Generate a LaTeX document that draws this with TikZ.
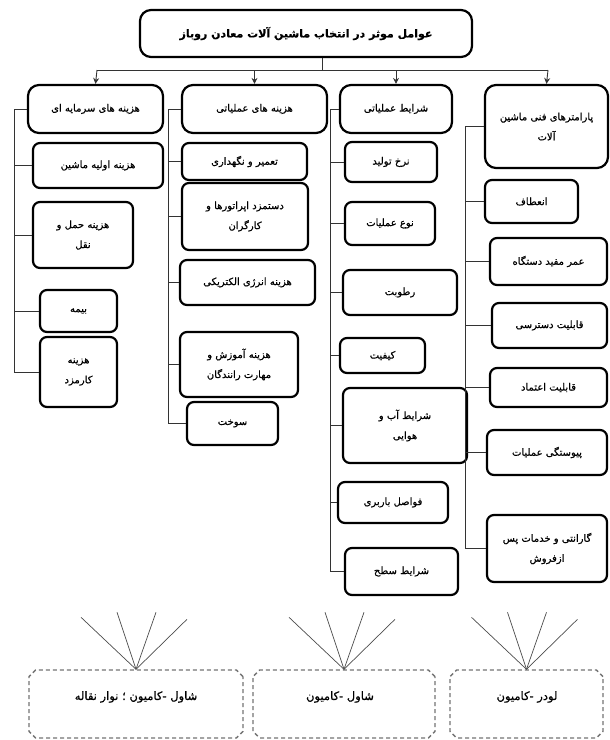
\documentclass[tikz,border=0pt]{standalone}
\usepackage{fontspec}
\TeXXeTstate=1
\newfontfamily\arabicfont[Script=Arabic,FakeBold=0.6]{DejaVu Sans}
\usetikzlibrary{arrows.meta,shapes.misc}
\newcommand\fa[1]{\beginR #1\endR}
\begin{document}
\begin{tikzpicture}[x=1pt,y=-1pt,
  box/.style={draw, line width=2.2pt, rounded corners=7pt, align=center, inner sep=2pt,
    font={\arabicfont\fontsize{10}{20}\selectfont}},
  head/.style={box, rounded corners=11pt},
  conn/.style={draw=black!80, line width=0.9pt},
  arr/.style={conn, -{Stealth[length=6pt,width=6pt]}},
  alt/.style={draw=black!55, dash pattern=on 4pt off 3pt, line width=1.4pt,
    shape=chamfered rectangle, chamfered rectangle xsep=9pt, chamfered rectangle ysep=9pt},
  alttext/.style={font={\arabicfont\fontsize{11.5}{14}\selectfont}},
  fan/.style={draw=black!70, line width=0.7pt}]
\useasboundingbox (0,0) rectangle (610,740);

% title
\node[head, minimum width=332pt, minimum height=47pt, font={\arabicfont\bfseries\fontsize{11}{14}\selectfont}] (title) at (306,33.5) {\fa{عوامل موثر در انتخاب ماشین آلات معادن روباز}};
\coordinate (hub) at (322,70);
\coordinate (hl) at (97,70);
\coordinate (hr) at (548,70);

% headers
\node[head, minimum width=135pt, minimum height=48pt] (h1) at (95.5,109) {\fa{هزینه های سرمایه ای}};
\node[head, minimum width=145pt, minimum height=48pt] (h2) at (254.5,109) {\fa{هزینه های عملیاتی}};
\node[head, minimum width=112pt, minimum height=48pt] (h3) at (396,109) {\fa{شرایط عملیاتی}};
\node[head, minimum width=123pt, minimum height=83pt] (h4) at (546.5,126.5) {\fa{پارامترهای فنی ماشین}\\\fa{آلات}};

\draw[conn] (title.south -| hub) -- (hub);
\draw[conn] (hl) -- (hr);
\draw[arr] (hl) -- (h1.north);
\draw[arr] (h2.north |- hl) -- (h2.north);
\draw[arr] (h3.north |- hl) -- (h3.north);
\draw[arr] (hr) -- (h4.north);

% column 1
\coordinate (s1) at (14,0);
\node[box, minimum width=130pt, minimum height=45pt] (a1) at (98,165.5) {\fa{هزینه اولیه ماشین}};
\node[box, minimum width=100pt, minimum height=66pt] (a2) at (83,235) {\fa{هزینه حمل و}\\\fa{نقل}};
\node[box, minimum width=77pt, minimum height=42pt] (a3) at (78.5,311) {\fa{بیمه}};
\node[box, minimum width=77pt, minimum height=70pt] (a4) at (78.5,372) {\fa{هزینه}\\\fa{کارمزد}};
\draw[conn] (h1.west) -- (h1.west -| s1) -- (a4.west -| s1) -- (a4.west);
\foreach \n in {a1,a2,a3} \draw[conn] (\n.west) -- (\n.west -| s1);

% column 2
\coordinate (s2) at (168,0);
\node[box, minimum width=125pt, minimum height=37pt] (b1) at (244.5,161.5) {\fa{تعمیر و نگهداری}};
\node[box, minimum width=126pt, minimum height=67pt] (b2) at (245,216.5) {\fa{دستمزد اپراتورها و}\\\fa{کارگران}};
\node[box, minimum width=135pt, minimum height=45pt] (b3) at (247.5,282.5) {\fa{هزینه انرژی الکتریکی}};
\node[box, minimum width=118pt, minimum height=65pt] (b4) at (239,364.5) {\fa{هزینه آموزش و}\\\fa{مهارت رانندگان}};
\node[box, minimum width=91pt, minimum height=43pt] (b5) at (232.5,423.5) {\fa{سوخت}};
\draw[conn] (h2.west) -- (h2.west -| s2) -- (b5.west -| s2) -- (b5.west);
\foreach \n in {b1,b2,b3,b4} \draw[conn] (\n.west) -- (\n.west -| s2);

% column 3
\coordinate (s3) at (330,0);
\node[box, minimum width=92pt, minimum height=40pt] (c1) at (391,162) {\fa{نرخ تولید}};
\node[box, minimum width=90pt, minimum height=43pt] (c2) at (390,223.5) {\fa{نوع عملیات}};
\node[box, minimum width=114pt, minimum height=45pt] (c3) at (400,292.5) {\fa{رطوبت}};
\node[box, minimum width=85pt, minimum height=35pt] (c4) at (382.5,355.5) {\fa{کیفیت}};
\node[box, minimum width=124pt, minimum height=75pt] (c5) at (405,425.5) {\fa{شرایط آب و}\\\fa{هوایی}};
\node[box, minimum width=110pt, minimum height=41pt] (c6) at (393,502.5) {\fa{فواصل باربری}};
\node[box, minimum width=113pt, minimum height=47pt] (c7) at (401.5,571.5) {\fa{شرایط سطح}};
\draw[conn] (h3.west) -- (h3.west -| s3) -- (c7.west -| s3) -- (c7.west);
\foreach \n in {c1,c2,c3,c4,c5,c6} \draw[conn] (\n.west) -- (\n.west -| s3);

% column 4
\coordinate (s4) at (465,0);
\node[box, minimum width=93pt, minimum height=43pt] (d1) at (531.5,201.5) {\fa{انعطاف}};
\node[box, minimum width=117pt, minimum height=47pt] (d2) at (548.5,261.5) {\fa{عمر مفید دستگاه}};
\node[box, minimum width=115pt, minimum height=45pt] (d3) at (549.5,325.5) {\fa{قابلیت دسترسی}};
\node[box, minimum width=117pt, minimum height=39pt] (d4) at (548.5,387.5) {\fa{قابلیت اعتماد}};
\node[box, minimum width=120pt, minimum height=45pt] (d5) at (547,452.5) {\fa{پیوستگی عملیات}};
\node[box, minimum width=120pt, minimum height=67pt] (d6) at (547,548.5) {\fa{گارانتی و خدمات پس}\\\fa{ازفروش}};
\draw[conn] (h4.west) -- (h4.west -| s4) -- (d6.west -| s4) -- (d6.west);
\foreach \n in {d1,d2,d3,d4,d5} \draw[conn] (\n.west) -- (\n.west -| s4);

% alternatives
\node[alt, minimum width=214pt, minimum height=68pt] (e1) at (136,704) {};
\node[alt, minimum width=182pt, minimum height=68pt] (e2) at (344,704) {};
\node[alt, minimum width=153pt, minimum height=68pt] (e3) at (526.5,704) {};
\node[alttext] (t1) at (136,697) {\fa{شاول -کامیون ؛ نوار نقاله}};
\node[alttext] (t2) at (340,697) {\fa{شاول -کامیون}};
\node[alttext] (t3) at (527,697) {\fa{لودر -کامیون}};
\foreach \n in {e1,e2,e3} {
  \draw[fan] (\n.north) -- ++(-55,-52);
  \draw[fan] (\n.north) -- ++(-19,-57);
  \draw[fan] (\n.north) -- ++(20,-57);
  \draw[fan] (\n.north) -- ++(51,-50);
}
\end{tikzpicture}
\end{document}
